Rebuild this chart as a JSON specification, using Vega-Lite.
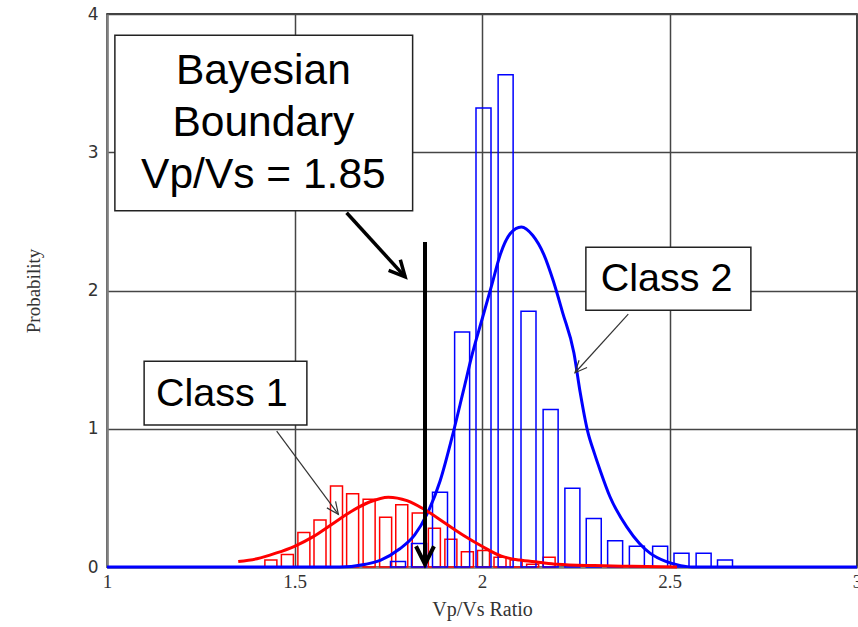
{
  "$schema": "https://vega.github.io/schema/vega-lite/v6.json",
  "width": 750,
  "height": 553,
  "autosize": {"type": "none"},
  "padding": {"left": 107, "top": 14, "right": 1, "bottom": 60},
  "background": "white",
  "config": {
    "view": {"stroke": "black", "strokeWidth": 1.5},
    "axis": {
      "gridColor": "#454545",
      "gridWidth": 1.5,
      "gridOpacity": 1,
      "domainColor": "#808080",
      "domainWidth": 2.5,
      "ticks": false,
      "labelColor": "#333333",
      "titleColor": "#333333",
      "titleFontWeight": "normal"
    }
  },
  "datasets": {
    "redbars": [
      {"b0": 1.421, "b1": 1.453, "p": 0.05},
      {"b0": 1.465, "b1": 1.497, "p": 0.09},
      {"b0": 1.509, "b1": 1.541, "p": 0.25},
      {"b0": 1.552, "b1": 1.584, "p": 0.34},
      {"b0": 1.596, "b1": 1.628, "p": 0.585},
      {"b0": 1.639, "b1": 1.671, "p": 0.53},
      {"b0": 1.683, "b1": 1.715, "p": 0.49},
      {"b0": 1.727, "b1": 1.759, "p": 0.36},
      {"b0": 1.770, "b1": 1.802, "p": 0.45},
      {"b0": 1.814, "b1": 1.846, "p": 0.39},
      {"b0": 1.857, "b1": 1.889, "p": 0.28},
      {"b0": 1.901, "b1": 1.933, "p": 0.20},
      {"b0": 1.945, "b1": 1.977, "p": 0.11},
      {"b0": 1.988, "b1": 2.020, "p": 0.12},
      {"b0": 2.032, "b1": 2.064, "p": 0.07},
      {"b0": 2.075, "b1": 2.107, "p": 0.05},
      {"b0": 2.119, "b1": 2.151, "p": 0.02},
      {"b0": 2.163, "b1": 2.195, "p": 0.07}
    ],
    "bluebars": [
      {"b0": 1.756, "b1": 1.796, "p": 0.04},
      {"b0": 1.812, "b1": 1.852, "p": 0.17},
      {"b0": 1.868, "b1": 1.908, "p": 0.54},
      {"b0": 1.927, "b1": 1.967, "p": 1.70},
      {"b0": 1.984, "b1": 2.024, "p": 3.32},
      {"b0": 2.043, "b1": 2.083, "p": 3.56},
      {"b0": 2.104, "b1": 2.144, "p": 1.85},
      {"b0": 2.163, "b1": 2.203, "p": 1.14},
      {"b0": 2.221, "b1": 2.261, "p": 0.57},
      {"b0": 2.278, "b1": 2.318, "p": 0.35},
      {"b0": 2.335, "b1": 2.375, "p": 0.19},
      {"b0": 2.393, "b1": 2.433, "p": 0.15},
      {"b0": 2.455, "b1": 2.495, "p": 0.15},
      {"b0": 2.512, "b1": 2.552, "p": 0.10},
      {"b0": 2.571, "b1": 2.611, "p": 0.10},
      {"b0": 2.628, "b1": 2.668, "p": 0.05}
    ],
    "redcurve": [
      {"x": 1.35, "p": 0.04}, {"x": 1.40, "p": 0.06}, {"x": 1.45, "p": 0.10},
      {"x": 1.50, "p": 0.15}, {"x": 1.55, "p": 0.22}, {"x": 1.60, "p": 0.31},
      {"x": 1.65, "p": 0.40}, {"x": 1.70, "p": 0.47}, {"x": 1.75, "p": 0.505},
      {"x": 1.80, "p": 0.48}, {"x": 1.85, "p": 0.41}, {"x": 1.90, "p": 0.32},
      {"x": 1.95, "p": 0.23}, {"x": 2.00, "p": 0.15}, {"x": 2.05, "p": 0.08},
      {"x": 2.10, "p": 0.05}, {"x": 2.15, "p": 0.035}, {"x": 2.20, "p": 0.02},
      {"x": 2.30, "p": 0.01}, {"x": 2.40, "p": 0.005}, {"x": 2.52, "p": 0.0}
    ],
    "bluecurve": [
      {"x": 1.00, "p": 0}, {"x": 1.62, "p": 0}, {"x": 1.69, "p": 0.02},
      {"x": 1.73, "p": 0.05}, {"x": 1.78, "p": 0.13}, {"x": 1.82, "p": 0.23},
      {"x": 1.853, "p": 0.38}, {"x": 1.888, "p": 0.62}, {"x": 1.924, "p": 0.98},
      {"x": 1.95, "p": 1.27}, {"x": 1.975, "p": 1.55}, {"x": 2.00, "p": 1.79},
      {"x": 2.025, "p": 2.03}, {"x": 2.05, "p": 2.27}, {"x": 2.075, "p": 2.41},
      {"x": 2.105, "p": 2.46}, {"x": 2.135, "p": 2.40}, {"x": 2.165, "p": 2.26},
      {"x": 2.19, "p": 2.07}, {"x": 2.215, "p": 1.84}, {"x": 2.245, "p": 1.55},
      {"x": 2.262, "p": 1.26}, {"x": 2.281, "p": 0.99}, {"x": 2.30, "p": 0.82},
      {"x": 2.315, "p": 0.70}, {"x": 2.341, "p": 0.51}, {"x": 2.386, "p": 0.29},
      {"x": 2.42, "p": 0.17}, {"x": 2.448, "p": 0.10}, {"x": 2.49, "p": 0.04},
      {"x": 2.53, "p": 0.01}, {"x": 2.56, "p": 0}, {"x": 3.00, "p": 0}
    ],
    "boxes": [
      {"name": "bayes", "x0": 1.021, "x1": 1.815, "y0": 2.576, "y1": 3.847},
      {"name": "class2", "x0": 2.277, "x1": 2.717, "y0": 1.858, "y1": 2.312},
      {"name": "class1", "x0": 1.099, "x1": 1.533, "y0": 1.027, "y1": 1.489}
    ],
    "arrows": [
      {"name": "boundary", "x0": 1.848, "y0": 2.35, "x1": 1.848, "y1": 0.02},
      {"name": "diag", "x0": 1.639, "y0": 2.562, "x1": 1.795, "y1": 2.099},
      {"name": "class2", "x0": 2.39, "y0": 1.829, "x1": 2.248, "y1": 1.405},
      {"name": "class1", "x0": 1.4525, "y0": 0.983, "x1": 1.617, "y1": 0.381}
    ],
    "bigtext": [
      {"t": "Bayesian", "x": 1.417, "y": 3.492},
      {"t": "Boundary", "x": 1.417, "y": 3.116},
      {"t": "Vp/Vs = 1.85", "x": 1.417, "y": 2.738}
    ],
    "classtext": [
      {"t": "Class 2", "x": 2.492, "y": 1.998},
      {"t": "Class 1", "x": 1.306, "y": 1.166}
    ]
  },
  "layer": [
    {
      "data": {"name": "redbars"},
      "mark": {"type": "rect", "fill": null, "fillOpacity": 0, "stroke": "#ff0000", "strokeWidth": 1.5},
      "encoding": {
        "x": {"field": "b0", "type": "quantitative", "title": "Vp/Vs Ratio",
              "scale": {"domain": [1, 3], "nice": false, "zero": false},
              "axis": {"values": [1, 1.5, 2, 2.5, 3], "labelFont": "Liberation Serif", "labelFontSize": 19,
                       "labelPadding": 5, "labelFlush": false, "titleFont": "Liberation Serif", "titleFontSize": 20,
                       "titlePadding": 8, "format": "~g"}},
        "x2": {"field": "b1"},
        "y": {"field": "p", "type": "quantitative", "title": "Probability",
              "scale": {"domain": [0, 4], "nice": false},
              "axis": {"values": [0, 1, 2, 3, 4], "format": "~g", "labelFont": "DejaVu Sans", "labelFontSize": 17,
                       "labelPadding": 9, "titleFont": "Liberation Serif", "titleFontSize": 19, "titlePadding": 44}},
        "y2": {"datum": 0}
      }
    },
    {
      "data": {"name": "bluebars"},
      "mark": {"type": "rect", "fill": null, "fillOpacity": 0, "stroke": "#0000ff", "strokeWidth": 1.5},
      "encoding": {
        "x": {"field": "b0", "type": "quantitative", "title": "Vp/Vs Ratio"},
        "x2": {"field": "b1"},
        "y": {"field": "p", "type": "quantitative", "title": "Probability"},
        "y2": {"datum": 0}
      }
    },
    {
      "data": {"name": "bluecurve"},
      "mark": {"type": "line", "color": "#0000ff", "strokeWidth": 3, "interpolate": "monotone"},
      "encoding": {
        "x": {"field": "x", "type": "quantitative", "title": "Vp/Vs Ratio"},
        "y": {"field": "p", "type": "quantitative", "title": "Probability"}
      }
    },
    {
      "data": {"name": "redcurve"},
      "mark": {"type": "line", "color": "#ff0000", "strokeWidth": 3, "interpolate": "monotone"},
      "encoding": {
        "x": {"field": "x", "type": "quantitative", "title": "Vp/Vs Ratio"},
        "y": {"field": "p", "type": "quantitative", "title": "Probability"}
      }
    },
    {
      "data": {"name": "boxes"},
      "mark": {"type": "rect", "fill": "white", "stroke": "#222222", "strokeWidth": 1.5},
      "encoding": {
        "x": {"field": "x0", "type": "quantitative", "title": "Vp/Vs Ratio"},
        "x2": {"field": "x1"},
        "y": {"field": "y0", "type": "quantitative", "title": "Probability"},
        "y2": {"field": "y1"}
      }
    },
    {
      "data": {"name": "bigtext"},
      "mark": {"type": "text", "font": "Liberation Sans", "fontSize": 42.5, "align": "center", "baseline": "alphabetic", "color": "black"},
      "encoding": {
        "x": {"field": "x", "type": "quantitative", "title": "Vp/Vs Ratio"},
        "y": {"field": "y", "type": "quantitative", "title": "Probability"},
        "text": {"field": "t"}
      }
    },
    {
      "data": {"name": "classtext"},
      "mark": {"type": "text", "font": "Liberation Sans", "fontSize": 39.5, "align": "center", "baseline": "alphabetic", "color": "black"},
      "encoding": {
        "x": {"field": "x", "type": "quantitative", "title": "Vp/Vs Ratio"},
        "y": {"field": "y", "type": "quantitative", "title": "Probability"},
        "text": {"field": "t"}
      }
    },
    {
      "data": {"name": "arrows"},
      "transform": [{"filter": "datum.name === 'boundary'"}],
      "mark": {"type": "rule", "color": "black", "strokeWidth": 4},
      "encoding": {
        "x": {"field": "x0", "type": "quantitative", "title": "Vp/Vs Ratio"},
        "y": {"field": "y0", "type": "quantitative", "title": "Probability"},
        "x2": {"field": "x1"},
        "y2": {"field": "y1"}
      }
    },
    {
      "data": {"name": "arrows"},
      "transform": [{"filter": "datum.name === 'diag'"}],
      "mark": {"type": "rule", "color": "black", "strokeWidth": 3.5},
      "encoding": {
        "x": {"field": "x0", "type": "quantitative", "title": "Vp/Vs Ratio"},
        "y": {"field": "y0", "type": "quantitative", "title": "Probability"},
        "x2": {"field": "x1"},
        "y2": {"field": "y1"}
      }
    },
    {
      "data": {"name": "arrows"},
      "transform": [{"filter": "datum.name === 'class1' || datum.name === 'class2'"}],
      "mark": {"type": "rule", "color": "#333333", "strokeWidth": 1.2},
      "encoding": {
        "x": {"field": "x0", "type": "quantitative", "title": "Vp/Vs Ratio"},
        "y": {"field": "y0", "type": "quantitative", "title": "Probability"},
        "x2": {"field": "x1"},
        "y2": {"field": "y1"}
      }
    },
    {
      "data": {"name": "arrows"},
      "transform": [{"filter": "datum.name === 'boundary'"}],
      "mark": {"type": "point", "shape": "M -0.5 -1 L 0 0 L 0.5 -1", "filled": false, "stroke": "black", "strokeWidth": 4, "size": 1296, "angle": 0, "opacity": 1},
      "encoding": {
        "x": {"field": "x1", "type": "quantitative", "title": "Vp/Vs Ratio"},
        "y": {"field": "y1", "type": "quantitative", "title": "Probability"}
      }
    },
    {
      "data": {"name": "arrows"},
      "transform": [{"filter": "datum.name === 'diag'"}],
      "mark": {"type": "point", "shape": "M -0.5 -1 L 0 0 L 0.5 -1", "filled": false, "stroke": "black", "strokeWidth": 3.5, "size": 1000, "angle": 317.7, "opacity": 1},
      "encoding": {
        "x": {"field": "x1", "type": "quantitative", "title": "Vp/Vs Ratio"},
        "y": {"field": "y1", "type": "quantitative", "title": "Probability"}
      }
    },
    {
      "data": {"name": "arrows"},
      "transform": [{"filter": "datum.name === 'class2'"}],
      "mark": {"type": "point", "shape": "M -0.45 -1 L 0 0 L 0.45 -1", "filled": false, "stroke": "#333333", "strokeWidth": 1.2, "size": 576, "angle": 42.2, "opacity": 1},
      "encoding": {
        "x": {"field": "x1", "type": "quantitative", "title": "Vp/Vs Ratio"},
        "y": {"field": "y1", "type": "quantitative", "title": "Probability"}
      }
    },
    {
      "data": {"name": "arrows"},
      "transform": [{"filter": "datum.name === 'class1'"}],
      "mark": {"type": "point", "shape": "M -0.45 -1 L 0 0 L 0.45 -1", "filled": false, "stroke": "#333333", "strokeWidth": 1.2, "size": 576, "angle": 323.5, "opacity": 1},
      "encoding": {
        "x": {"field": "x1", "type": "quantitative", "title": "Vp/Vs Ratio"},
        "y": {"field": "y1", "type": "quantitative", "title": "Probability"}
      }
    }
  ]
}
